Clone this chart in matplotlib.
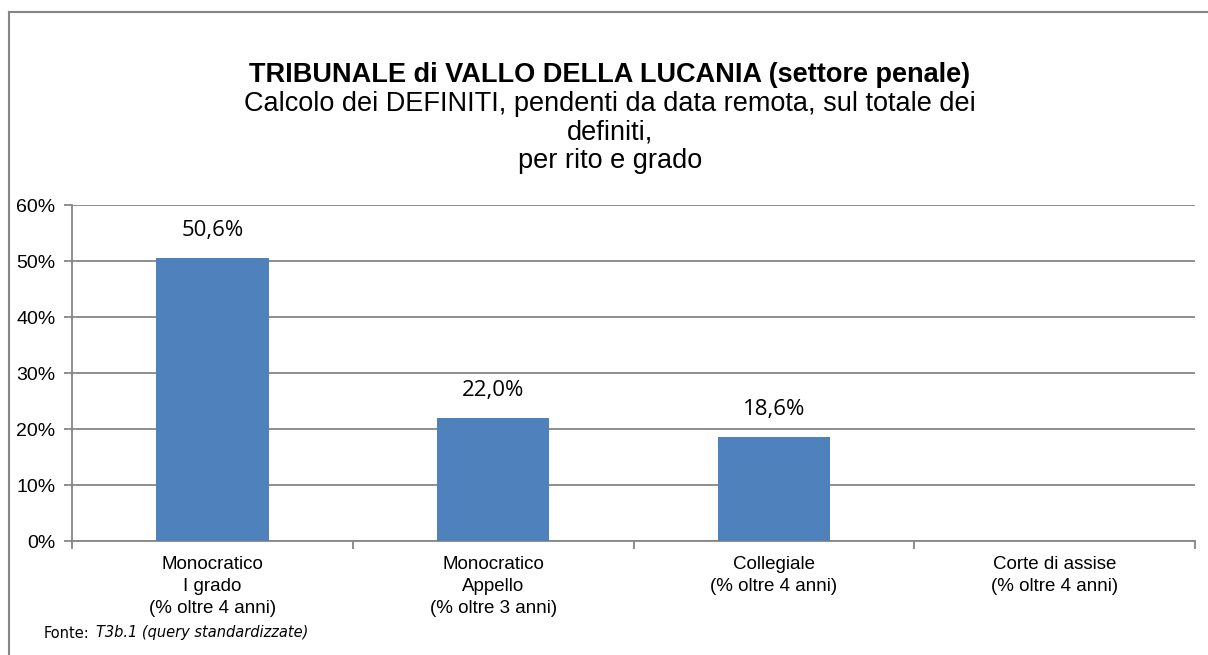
import matplotlib.pyplot as plt
from matplotlib.lines import Line2D
from matplotlib.ticker import FixedLocator, PercentFormatter

categories = ["Monocratico\nI grado\n(% oltre 4 anni)",
              "Monocratico\nAppello\n(% oltre 3 anni)",
              "Collegiale\n(% oltre 4 anni)",
              "Corte di assise\n(% oltre 4 anni)"]
values = [50.6, 22.0, 18.6, None]
labels = ["50,6%", "22,0%", "18,6%", ""]

title_lines = ["Calcolo dei DEFINITI, pendenti da data remota, sul totale dei",
               "definiti,",
               "per rito e grado"]

grid_col = "#868686"
bar_col = "#4F81BD"

W, H = 1208, 655
fig = plt.figure(figsize=(W / 100, H / 100), dpi=100)
ax = fig.add_axes([72 / W, 1 - 541 / H, (1195 - 72) / W, (541 - 205) / H])

xs = range(len(categories))
for x, v, lab in zip(xs, values, labels):
    if v is None:
        continue
    ax.bar(x, v, width=0.4, color=bar_col, zorder=3)
    ax.text(x, v + 3.0, lab, ha="center", va="bottom", fontsize=16,
            family="Open Sans", color="black")

ax.set_xlim(-0.5, 3.5)
ax.set_ylim(0, 60)
ax.set_yticks(range(0, 61, 10))
ax.yaxis.set_major_formatter(PercentFormatter(decimals=0))
ax.set_xticks(list(xs))
ax.set_xticklabels(categories, family="Liberation Sans", fontsize=13.5,
                   linespacing=1.38)
ax.xaxis.set_minor_locator(FixedLocator([-0.5, 0.5, 1.5, 2.5, 3.5]))
ax.tick_params(axis="x", which="major", length=0, pad=11)
ax.tick_params(axis="x", which="minor", length=6, color=grid_col, width=1.3)
ax.tick_params(axis="y", length=6, color=grid_col, width=1.3, pad=6,
               labelsize=14)
for t in ax.get_yticklabels():
    t.set_family("Liberation Sans")

ax.grid(axis="y", color=grid_col, linewidth=1.3, zorder=0)
for s in ["top", "right"]:
    ax.spines[s].set_visible(False)
for s in ["left", "bottom"]:
    ax.spines[s].set_color(grid_col)
    ax.spines[s].set_linewidth(1.3)

fig.text(610 / W, 1 - 75 / H, "TRIBUNALE di VALLO DELLA LUCANIA (settore penale)",
         ha="center", va="center", fontsize=19.5, fontweight="bold",
         family="Liberation Sans")
for i, line in enumerate(title_lines):
    fig.text(610 / W, 1 - (104 + 28.5 * i) / H, line, ha="center", va="center",
             fontsize=19.5, family="Liberation Sans")

fig.text(44 / W, 1 - 633 / H, "Fonte:", ha="left", va="center", fontsize=10.5,
         family="DejaVu Sans")
fig.text(96 / W, 1 - 633 / H, "T3b.1 (query standardizzate)", ha="left",
         va="center", fontsize=10.5, family="DejaVu Sans", style="italic")

# chart frame (only top and left edges visible in the crop)
fig.add_artist(Line2D([9 / W, 1], [1 - 12 / H, 1 - 12 / H],
                      transform=fig.transFigure, color=grid_col, linewidth=1.5))
fig.add_artist(Line2D([9 / W, 9 / W], [0, 1 - 12 / H],
                      transform=fig.transFigure, color=grid_col, linewidth=1.5))

fig.savefig("out.png", dpi=100)
